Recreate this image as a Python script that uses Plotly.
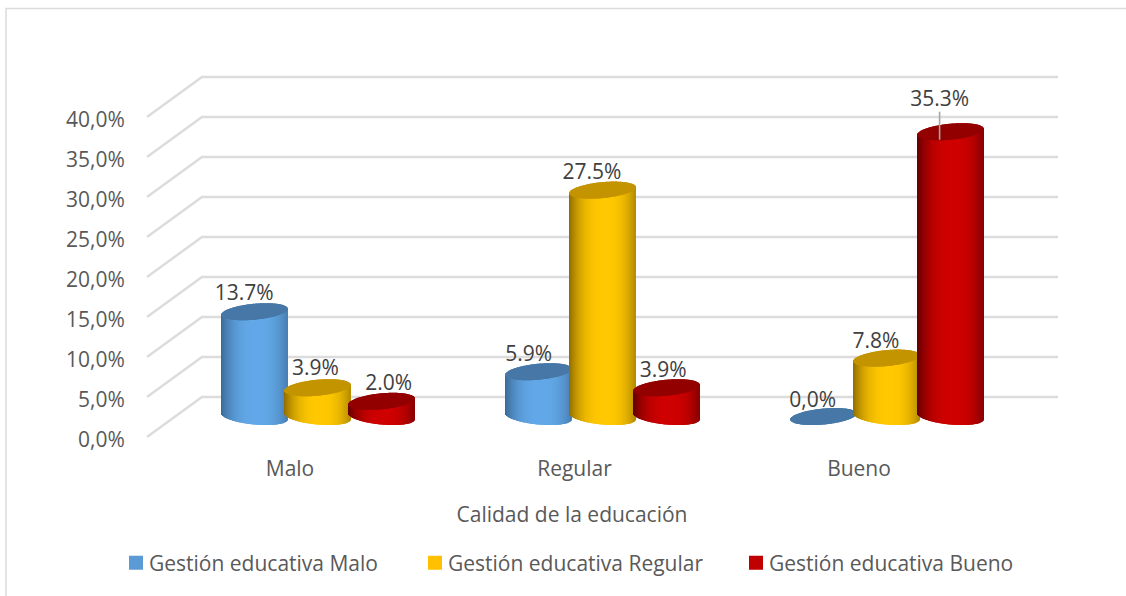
import math
import plotly.graph_objects as go

categories = ["Malo", "Regular", "Bueno"]
series_names = ["Gestión educativa Malo", "Gestión educativa Regular", "Gestión educativa Bueno"]
# bar heights as drawn against the axis, per series
malo_values = [13.1, 5.6, 0.0]
regular_values = [3.6, 28.3, 7.3]
bueno_values = [1.9, 3.6, 35.6]
# data labels as printed on the chart
malo_labels = ["13.7%", "5.9%", "0,0%"]
regular_labels = ["3.9%", "27.5%", "7.8%"]
bueno_labels = ["2.0%", "3.9%", "35.3%"]
tick_values = [0, 5, 10, 15, 20, 25, 30, 35, 40]
tick_labels = ["0,0%", "5,0%", "10,0%", "15,0%", "20,0%", "25,0%", "30,0%", "35,0%", "40,0%"]
axis_title = "Calidad de la educación"

values = [malo_values, regular_values, bueno_values]
labels = [malo_labels, regular_labels, bueno_labels]

# scale of the picture
W, H = 1126, 596
PL, PR, PT, PB = 85, 1059, 70, 440
X_PX = 284.5            # pixels per category
Y_PX = 8.0              # pixels per percent
X0_PX = 290             # pixel of first category
Y0_PX = 437             # pixel of 0 on the front axis
x_range = [(PL - X0_PX) / X_PX, (PR - X0_PX) / X_PX]
y_range = [(Y0_PX - PB) / Y_PX, (Y0_PX - PT) / Y_PX]
dx = 1 / X_PX
dy = 1 / Y_PX

FLOOR = 2.56            # mid-depth floor offset
GROUP_OFF = 27.9 * dx
BAR_STEP = 63.7 * dx
RADIUS_PX = 33
SHEAR = 3.0 * dy
RY = 8.0 * dy

bright = ["#62a8e8", "#ffc800", "#cf0000"]
edge = ["#3a6a96", "#8f6c00", "#640000"]
top_col = ["#4677a6", "#c49400", "#930000"]
legend_col = ["#5b9bd5", "#ffc000", "#c00000"]
legend_px = [115, 414, 735]

label_dx = [[-10, -10, -10.5], [-2.5, -10.5, -11], [7, -3, -11]]
label_dy = [[16.5, 16, 14.5], [18, 16, 15.5], [17, 16, 31]]


def rgb(c):
    return [int(c[i:i + 2], 16) for i in (1, 3, 5)]


def shade(i, t):
    u = min(1.0, abs(t - 0.08) / 1.08)
    f = max(0.0, 1 - u ** 2.6)
    a, b = rgb(edge[i]), rgb(bright[i])
    return "rgb(%d,%d,%d)" % tuple(round(a[k] + (b[k] - a[k]) * f) for k in range(3))


fig = go.Figure()

for si, name in enumerate(series_names):
    for ci in range(len(categories)):
        v = values[si][ci]
        cx = ci + GROUP_OFF + (si - 1) * BAR_STEP
        xs, bases, lens, cols = [], [], [], []
        n = RADIUS_PX * 2
        strips = []
        for k in range(n):
            t = (k + 0.5 - RADIUS_PX) / RADIUS_PX
            strips.append((cx + t * RADIUS_PX * dx, t, math.sqrt(max(0, 1 - t * t))))
        if v > 0:
            for x, t, s in strips:
                low = FLOOR - SHEAR * t - RY * s
                high = FLOOR + v + SHEAR * t
                xs.append(x); bases.append(low); lens.append(high - low); cols.append(shade(si, t))
        for x, t, s in strips:
            low = FLOOR + v + SHEAR * t - RY * s
            xs.append(x); bases.append(low); lens.append(2 * RY * s); cols.append(top_col[si])
        fig.add_bar(x=xs, y=lens, base=bases, width=1.08 * dx, name=name, showlegend=False,
                    marker=dict(color=cols, line=dict(width=0)), hoverinfo="skip")

# legend entries, one legend each so they can sit where the original has them
for si, name in enumerate(series_names):
    fig.add_scatter(x=[None], y=[None], name=name, mode="markers",
                    marker=dict(color=legend_col[si], symbol="square", size=14, line=dict(width=0)),
                    legend="legend" if si == 0 else f"legend{si + 1}", showlegend=True)

# data labels
lx, ly, lt = [], [], []
for si in range(3):
    for ci in range(3):
        cx = ci + GROUP_OFF + (si - 1) * BAR_STEP
        lx.append(cx + label_dx[si][ci] * dx)
        ly.append(FLOOR + values[si][ci] + label_dy[si][ci] * dy)
        lt.append(labels[si][ci])
fig.add_scatter(x=lx, y=ly, mode="text", text=lt, textposition="middle center", showlegend=False,
                textfont=dict(family="Open Sans", size=21, color="#404040"), hoverinfo="skip")

# leader line of the tallest bar
lead_x = 2 + GROUP_OFF + BAR_STEP - 11 * dx
lead_top = FLOOR + bueno_values[2]
fig.add_scatter(x=[lead_x, lead_x], y=[lead_top + 20 * dy, lead_top - 8 * dy], mode="lines",
                line=dict(color="#a6a6a6", width=1.6), showlegend=False, hoverinfo="skip")

# 3-D style gridlines
shapes = []
xl = (147 - X0_PX) / X_PX
xb = (202 - X0_PX) / X_PX
xr = (1058 - X0_PX) / X_PX
for tv in tick_values:
    shapes.append(dict(type="path", xref="x", yref="y", layer="below",
                       path=f"M {xl} {tv} L {xb} {tv + 5} L {xr} {tv + 5}",
                       line=dict(color="#dcdcdc", width=2.4)))

# outer frame
pw, ph = PR - PL, PB - PT
def px_x(p): return (p - PL) / pw
def px_y(p): return (PB - p) / ph
shapes.append(dict(type="path", xref="paper", yref="paper", layer="below",
                   path=f"M {px_x(6)} {px_y(596)} L {px_x(6)} {px_y(8.5)} L {px_x(1126)} {px_y(8.5)}",
                   line=dict(color="#dcdcdc", width=1.5)))

layout_legends = {}
for i, key in enumerate(["legend", "legend2", "legend3"]):
    layout_legends[key] = dict(x=px_x(legend_px[i]), y=px_y(563), xanchor="left", yanchor="middle",
                               bgcolor="rgba(0,0,0,0)", itemclick=False, itemdoubleclick=False,
                               font=dict(family="Open Sans", size=21, color="#595959"), itemwidth=30,
                               indentation=-6)

fig.update_layout(
    width=W, height=H, autosize=False,
    margin=dict(l=PL, r=W - PR, t=PT, b=H - PB, pad=0),
    paper_bgcolor="white", plot_bgcolor="white",
    barmode="overlay", showlegend=True, shapes=shapes,
    font=dict(family="Open Sans", color="#595959"),
    xaxis=dict(range=x_range, tickmode="array", tickvals=list(range(3)), ticktext=categories,
               showgrid=False, zeroline=False, showline=False, ticks="outside", ticklen=10,
               tickcolor="rgba(0,0,0,0)", tickfont=dict(size=21, color="#595959"),
               title=dict(text=axis_title, font=dict(size=21, color="#595959"), standoff=26)),
    yaxis=dict(range=y_range, anchor="free", position=(147 - PL) / pw, tickmode="array",
               tickvals=tick_values, ticktext=tick_labels, ticklabelshift=3,
               showgrid=False, zeroline=False, showline=False, ticks="outside", ticklen=18,
               tickcolor="rgba(0,0,0,0)", tickfont=dict(size=21, color="#595959")),
    **layout_legends,
)

post = ("document.body.style.margin='0';document.body.style.overflow='hidden';"
        "document.querySelectorAll('.legendpoints').forEach(function(e){"
        "e.setAttribute('transform','translate(7,0)');});")
fig.write_html("out.html", config={"displayModeBar": False}, post_script=post)
